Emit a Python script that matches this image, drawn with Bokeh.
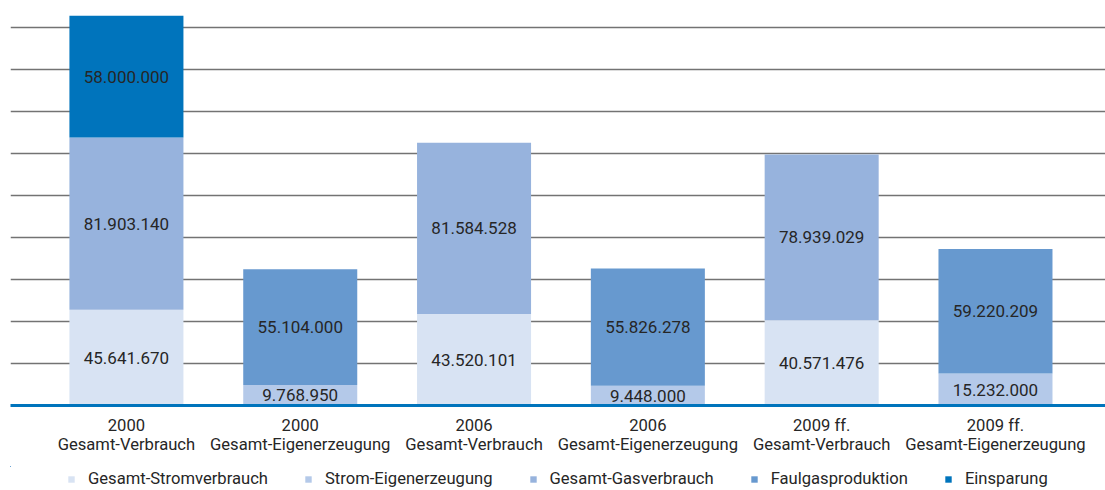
from bokeh.plotting import figure
from bokeh.layouts import column
from bokeh.models import ColumnDataSource, FixedTicker, Legend, LegendItem, Range1d, LinearAxis
from bokeh.core.properties import value
from bokeh.embed import file_html
from bokeh.resources import INLINE

years = ["2000", "2000", "2006", "2006", "2009 ff.", "2009 ff."]
kinds = ["Gesamt-Verbrauch", "Gesamt-Eigenerzeugung", "Gesamt-Verbrauch",
         "Gesamt-Eigenerzeugung", "Gesamt-Verbrauch", "Gesamt-Eigenerzeugung"]
series_names = ["Gesamt-Stromverbrauch", "Strom-Eigenerzeugung", "Gesamt-Gasverbrauch",
                "Faulgasproduktion", "Einsparung"]
strom_verbrauch = [45641670, 0, 43520101, 0, 40571476, 0]
strom_eigen = [0, 9768950, 0, 9448000, 0, 15232000]
gas_verbrauch = [81903140, 0, 81584528, 0, 78939029, 0]
faulgas = [0, 55104000, 0, 55826278, 0, 59220209]
einsparung = [58000000, 0, 0, 0, 0, 0]
grid_ticks = [20e6, 40e6, 60e6, 80e6, 100e6, 120e6, 140e6, 160e6, 180e6]

colors = ["#D8E3F3", "#B4C9E9", "#97B3DD", "#6799CF", "#0074BC"]
FONT = "Roboto"
TEXT_COLOR = "#262626"
FS = "16.6px"

xs = list(range(len(years)))
series = [strom_verbrauch, strom_eigen, gas_verbrauch, faulgas, einsparung]
keys = ["s0", "s1", "s2", "s3", "s4"]
data = {"x": xs}
for k, s in zip(keys, series):
    data[k] = s
source = ColumnDataSource(data)

fig = figure(frame_width=1095, frame_height=397, output_backend="svg", toolbar_location=None,
             x_range=Range1d(-0.667, 5.633), y_range=Range1d(0, 189.0e6),
             x_axis_location=None, y_axis_location=None,
             min_border_left=10, min_border_right=0, min_border_top=8, min_border_bottom=61)
fig.outline_line_color = None
fig.background_fill_color = "white"
fig.border_fill_color = "white"

renderers = fig.vbar_stack(keys, x="x", width=0.656, color=colors, line_color=None, source=source)

# value labels
lx, ly, lt = [], [], []
for i in xs:
    base = 0
    for s in series:
        v = s[i]
        if v > 0:
            lx.append(i)
            ly.append(base + v / 2)
            lt.append(f"{v:,}".replace(",", "."))
        base += v
fig.text(x=lx, y=ly, text=lt, text_align="center", text_baseline="middle",
         text_font=value(FONT), text_font_size="17px", text_color=TEXT_COLOR)

# grid
fig.xgrid.visible = False
fig.ygrid.ticker = FixedTicker(ticks=grid_ticks)
fig.ygrid.grid_line_color = "#737373"
fig.ygrid.grid_line_width = 1.5

# x axes: year line and kind line
def make_axis(ticks, labels, standoff, line_color):
    ax = LinearAxis(ticker=FixedTicker(ticks=ticks),
                    major_label_overrides={i: c for i, c in zip(ticks, labels)})
    ax.axis_line_color = line_color
    ax.axis_line_width = 3
    ax.major_tick_line_color = None
    ax.minor_tick_line_color = None
    ax.major_tick_in = 0
    ax.major_tick_out = 0
    ax.minor_tick_out = 0
    ax.major_label_text_font = FONT
    ax.major_label_text_font_size = FS
    ax.major_label_text_color = TEXT_COLOR
    ax.major_label_standoff = standoff
    return ax

fig.add_layout(make_axis(xs, years, 10, "#0074BC"), "below")
fig.add_layout(make_axis(xs, kinds, -3, None), "below")

# legend strip below the chart (swatch renderers use the same data, outside the visible range)
leg = figure(frame_width=1105, frame_height=24, output_backend="svg", toolbar_location=None,
             x_range=Range1d(100, 101), y_range=Range1d(-2, -1),
             x_axis_location=None, y_axis_location=None,
             min_border_left=0, min_border_right=0, min_border_top=0, min_border_bottom=0)
leg.outline_line_color = None
leg.xgrid.visible = False
leg.ygrid.visible = False
leg.border_fill_color = "white"
swatches = leg.vbar_stack(keys, x="x", width=0.656, color=colors, line_color=None, source=source)

legend = Legend(items=[LegendItem(label=n, renderers=[r]) for n, r in zip(series_names, swatches)],
                orientation="horizontal", location=(67, 2),
                glyph_width=8, glyph_height=8, label_standoff=13, spacing=36,
                padding=0, margin=0, border_line_color=None, background_fill_alpha=0,
                label_text_font=FONT, label_text_font_size=FS, label_text_color=TEXT_COLOR)
leg.add_layout(legend, "center")

p = column(fig, leg, spacing=0)

open("out.html", "w").write(file_html(p, INLINE))
